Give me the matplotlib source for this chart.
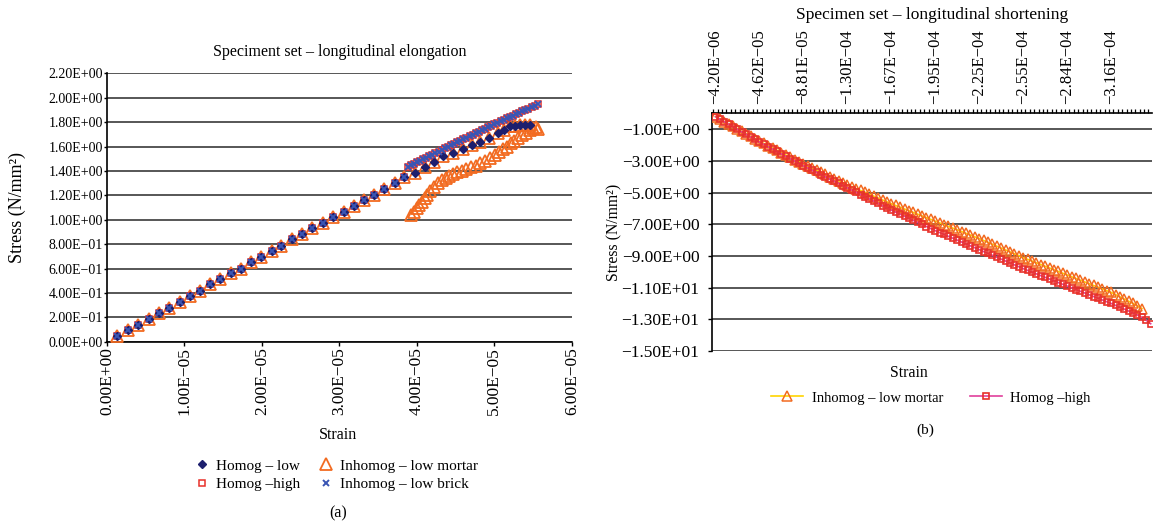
import matplotlib
matplotlib.use("Agg")
import matplotlib.pyplot as plt
from matplotlib.ticker import FuncFormatter, FixedLocator
from matplotlib.lines import Line2D

plt.rcParams['font.family'] = ['Liberation Serif', 'DejaVu Serif']

# ---------------- (a) longitudinal elongation ----------------
# strain in units of 1e-6, stress in N/mm2
lin_strain = [1.35, 2.70, 4.02, 5.36, 6.65, 8.03, 9.36, 10.65, 11.94, 13.30,
              14.60, 16.00, 17.30, 18.60, 19.90, 21.30, 22.50, 23.90, 25.20,
              26.50, 27.90, 29.20, 30.60, 31.90, 33.20, 34.50, 35.80, 37.20, 38.40]
lin_stress = [0.047, 0.096, 0.137, 0.186, 0.232, 0.279, 0.323, 0.375, 0.418, 0.470,
              0.511, 0.560, 0.600, 0.653, 0.697, 0.746, 0.787, 0.839, 0.883,
              0.929, 0.975, 1.025, 1.066, 1.112, 1.158, 1.203, 1.249, 1.298, 1.347]

# sparse branch that levels off (Homog - low, Inhomog - low mortar)
plat_strain = [39.8, 41.0, 42.2, 43.4, 44.7, 45.9, 47.1, 48.2, 49.3, 50.5,
               51.3, 52.0, 52.7, 53.3, 54.0, 54.6]
plat_stress = [1.385, 1.434, 1.476, 1.519, 1.548, 1.580, 1.612, 1.640, 1.672, 1.708,
               1.738, 1.765, 1.772, 1.774, 1.775, 1.776]

# dense upper branch (Homog - high, Inhomog - low brick)
up_strain = [38.8, 39.2, 39.6, 40.0, 40.4, 40.8, 41.2, 41.6, 42.0, 42.4, 42.8,
             43.2, 43.6, 44.0, 44.4, 44.8, 45.2, 45.6, 46.0, 46.4, 46.8, 47.2,
             47.6, 48.0, 48.4, 48.8, 49.2, 49.6, 50.0, 50.4, 50.8, 51.2, 51.6,
             52.0, 52.4, 52.8, 53.2, 53.6, 54.0, 54.4, 54.8, 55.2, 55.6]
up_stress = [1.432, 1.445, 1.458, 1.470, 1.483, 1.496, 1.509, 1.521, 1.534, 1.547, 1.559,
             1.572, 1.585, 1.597, 1.610, 1.622, 1.635, 1.648, 1.660, 1.672, 1.685, 1.697,
             1.710, 1.722, 1.734, 1.746, 1.758, 1.770, 1.782, 1.794, 1.806, 1.818, 1.830,
             1.842, 1.853, 1.865, 1.877, 1.888, 1.900, 1.911, 1.922, 1.934, 1.945]

# dense lower branch (Inhomog - low mortar)
low_strain = [39.3, 39.6, 40.0, 40.3, 40.6, 41.0, 41.3, 41.7, 42.2, 42.7, 43.2,
              43.7, 44.2, 44.7, 45.2, 45.8, 46.4, 47.0, 47.6, 48.2, 48.8, 49.5,
              50.1, 50.6, 51.1, 51.6, 52.1, 52.6, 53.1, 53.6, 54.1, 54.6, 55.0,
              55.4, 55.6]
low_stress = [1.040, 1.065, 1.093, 1.120, 1.148, 1.175, 1.202, 1.232, 1.268, 1.298, 1.325,
              1.345, 1.362, 1.377, 1.390, 1.402, 1.414, 1.428, 1.443, 1.462, 1.482, 1.505,
              1.530, 1.555, 1.580, 1.600, 1.625, 1.648, 1.670, 1.692, 1.712, 1.732, 1.748,
              1.762, 1.740]

# ---------------- (b) longitudinal shortening ----------------
strain_labels = ["-4.20E-06", "-4.62E-05", "-8.81E-05", "-1.30E-04", "-1.67E-04",
                 "-1.95E-04", "-2.25E-04", "-2.55E-04", "-2.84E-04", "-3.16E-04"]

mortar_b = [-0.20, -0.35, -0.51, -0.66, -0.82, -0.97, -1.13, -1.28, -1.44, -1.59, -1.75,
            -1.89, -2.04, -2.18, -2.33, -2.47, -2.62, -2.76, -2.91, -3.05, -3.20,
            -3.33, -3.46, -3.59, -3.72, -3.85, -3.98, -4.11, -4.24, -4.37, -4.50,
            -4.62, -4.74, -4.86, -4.98, -5.10, -5.22, -5.34, -5.46, -5.58, -5.70,
            -5.81, -5.92, -6.03, -6.14, -6.25, -6.36, -6.47, -6.58, -6.69, -6.80,
            -6.91, -7.02, -7.13, -7.24, -7.35, -7.46, -7.57, -7.68, -7.79, -7.90,
            -8.02, -8.14, -8.26, -8.38, -8.50, -8.62, -8.74, -8.86, -8.98, -9.10,
            -9.21, -9.32, -9.43, -9.54, -9.65, -9.76, -9.87, -9.98, -10.09, -10.20,
            -10.31, -10.42, -10.53, -10.64, -10.75, -10.86, -10.97, -11.08, -11.19, -11.30,
            -11.44, -11.58, -11.72, -11.86, -12.00, -12.15, -12.32]

high_b = [-0.20, -0.36, -0.52, -0.68, -0.84, -1.00, -1.16, -1.32, -1.48, -1.64, -1.80,
          -1.95, -2.10, -2.25, -2.40, -2.55, -2.70, -2.85, -3.00, -3.15, -3.30,
          -3.44, -3.58, -3.72, -3.86, -4.00, -4.14, -4.28, -4.42, -4.56, -4.70,
          -4.84, -4.98, -5.12, -5.26, -5.40, -5.54, -5.68, -5.82, -5.96, -6.10,
          -6.23, -6.36, -6.49, -6.62, -6.75, -6.88, -7.01, -7.14, -7.27, -7.40,
          -7.52, -7.64, -7.76, -7.88, -8.00, -8.12, -8.24, -8.36, -8.48, -8.60,
          -8.72, -8.84, -8.96, -9.08, -9.20, -9.32, -9.44, -9.56, -9.68, -9.80,
          -9.91, -10.02, -10.13, -10.24, -10.35, -10.46, -10.57, -10.68, -10.79, -10.90,
          -11.01, -11.12, -11.23, -11.34, -11.45, -11.56, -11.67, -11.78, -11.89, -12.00,
          -12.12, -12.24, -12.36, -12.48, -12.60, -12.73, -12.88, -13.06, -13.28]

NAVY = '#1d1f6e'
RED = '#e8302a'
ORANGE = '#f26b21'
BLUE = '#3a55b4'
YELLOW = '#ffd400'
MAGENTA = '#e0409c'
GRID = '#3a3a3a'


def excel_fmt(v, pos=None):
    return f"{v:.2E}".replace("-", "\u2212")


def e6(vals):
    return [v * 1e-6 for v in vals]


fig = plt.figure(figsize=(11.62, 5.24), dpi=100)

# ---------- left panel ----------
ax = fig.add_axes([0.0921, 0.3479, 0.4, 0.5122])

ax.plot(e6(lin_strain + plat_strain + low_strain), lin_stress + plat_stress + low_stress,
        ls='none', marker='^', ms=8, mfc='none', mec=ORANGE, mew=1.3, zorder=3)
ax.plot(e6(lin_strain + up_strain), lin_stress + up_stress,
        ls='none', marker='s', ms=4.4, mfc='white', mec=RED, mew=1.1, zorder=4)
ax.plot(e6(lin_strain + plat_strain), lin_stress + plat_stress,
        ls='none', marker='D', ms=3.8, color=NAVY, zorder=5)
ax.plot(e6(lin_strain + up_strain), lin_stress + up_stress,
        ls='none', marker='x', ms=4.8, mew=1.4, color=BLUE, zorder=6)

ax.set_xlim(0, 6e-5)
ax.set_ylim(0, 2.2)
ax.xaxis.set_major_locator(FixedLocator([i * 1e-5 for i in range(7)]))
ax.yaxis.set_major_locator(FixedLocator([i * 0.2 for i in range(12)]))
ax.xaxis.set_major_formatter(FuncFormatter(excel_fmt))
ax.yaxis.set_major_formatter(FuncFormatter(excel_fmt))
ax.tick_params(axis='x', labelrotation=90, labelsize=12.5, length=3, width=1, pad=1)
ax.tick_params(axis='y', labelsize=10, length=2, width=1, pad=1)
ax.grid(axis='y', color=GRID, lw=1.2)
ax.set_axisbelow(True)
for s in ['top', 'right']:
    ax.spines[s].set_visible(False)
for s in ['left', 'bottom']:
    ax.spines[s].set_linewidth(1.2)
ax.set_ylabel("Stress (N/mm\u00b2)", fontsize=13)
ax.yaxis.set_label_coords((26 - 107) / 464.8, 0.5)
fig.text(340 / 1162, 1 - 52 / 524, "Speciment set \u2013 longitudinal elongation",
         ha='center', va='center', fontsize=11.5)
fig.text(338 / 1162, 1 - 435 / 524, "Strain", ha='center', va='center', fontsize=11.5)
fig.text(338 / 1162, 1 - 513 / 524, "(a)", ha='center', va='center', fontsize=11.5)

handles_a = [
    Line2D([], [], ls='none', marker='D', ms=3.8, color=NAVY),
    Line2D([], [], ls='none', marker='s', ms=4.4, mfc='white', mec=RED, mew=1.1),
    Line2D([], [], ls='none', marker='^', ms=8, mfc='none', mec=ORANGE, mew=1.3),
    Line2D([], [], ls='none', marker='x', ms=4.8, mew=1.4, color=BLUE),
]
labels_a = ["Homog \u2013 low", "Homog \u2013high", "Inhomog \u2013 low mortar",
            "Inhomog \u2013 low brick"]
fig.legend(handles_a, labels_a, ncol=2, loc='center', frameon=False,
           bbox_to_anchor=(337 / 1162, 1 - 475 / 524), fontsize=11,
           handlelength=0.8, handletextpad=0.5, columnspacing=1.3, labelspacing=0.3)

# ---------- right panel ----------
bx = fig.add_axes([0.6127, 0.3302, 0.3787, 0.4532])
bx.plot(range(len(mortar_b)), mortar_b, color=YELLOW, lw=1.2, marker='^', ms=6.5,
        mfc='none', mec=ORANGE, mew=1.1, zorder=3)
bx.plot(range(len(high_b)), high_b, color=MAGENTA, lw=1.2, marker='s', ms=4.2,
        mfc='none', mec=RED, mew=1.2, zorder=4)

bx.set_xlim(-0.8, 99.3)
bx.set_ylim(-15, 0)
bx.xaxis.tick_top()
bx.xaxis.set_major_locator(FixedLocator(range(0, 100, 10)))
bx.set_xticklabels([s.replace("-", "\u2212") for s in strain_labels])
bx.xaxis.set_minor_locator(FixedLocator([i + 0.5 for i in range(-1, 100)]))
bx.tick_params(axis='x', which='major', length=0, labelrotation=90, labelsize=12, pad=7)
bx.tick_params(axis='x', which='minor', length=3, width=0.9, direction='out', top=True)
bx.yaxis.set_major_locator(FixedLocator([-1 - 2 * i for i in range(8)]))
bx.yaxis.set_major_formatter(FuncFormatter(excel_fmt))
bx.tick_params(axis='y', labelsize=12.5, length=3, width=1, pad=6)
bx.grid(axis='y', color=GRID, lw=1.2)
bx.set_axisbelow(True)
for s in ['bottom', 'right']:
    bx.spines[s].set_visible(False)
for s in ['left', 'top']:
    bx.spines[s].set_linewidth(1.2)
bx.set_ylabel("Stress (N/mm\u00b2)", fontsize=11.3)
bx.yaxis.set_label_coords((622 - 712) / 440, 0.5)
fig.text(932 / 1162, 1 - 15 / 524, "Specimen set \u2013 longitudinal shortening",
         ha='center', va='center', fontsize=12.5)
fig.text(909 / 1162, 1 - 373 / 524, "Strain", ha='center', va='center', fontsize=11.4)
fig.text(925 / 1162, 1 - 430 / 524, "(b)", ha='center', va='center', fontsize=11)

handles_b = [
    Line2D([], [], color=YELLOW, lw=1.2, marker='^', ms=6.5, mfc='none', mec=ORANGE, mew=1.1),
    Line2D([], [], color=MAGENTA, lw=1.2, marker='s', ms=4.2, mfc='none', mec=RED, mew=1.2),
]
fig.legend(handles_b, ["Inhomog \u2013 low mortar", "Homog \u2013high"], ncol=2,
           loc='center', frameon=False, bbox_to_anchor=(931 / 1162, 1 - 398 / 524),
           fontsize=10.5, handlelength=2.2, handletextpad=0.6, columnspacing=1.8)

fig.savefig("out.png", dpi=100)
